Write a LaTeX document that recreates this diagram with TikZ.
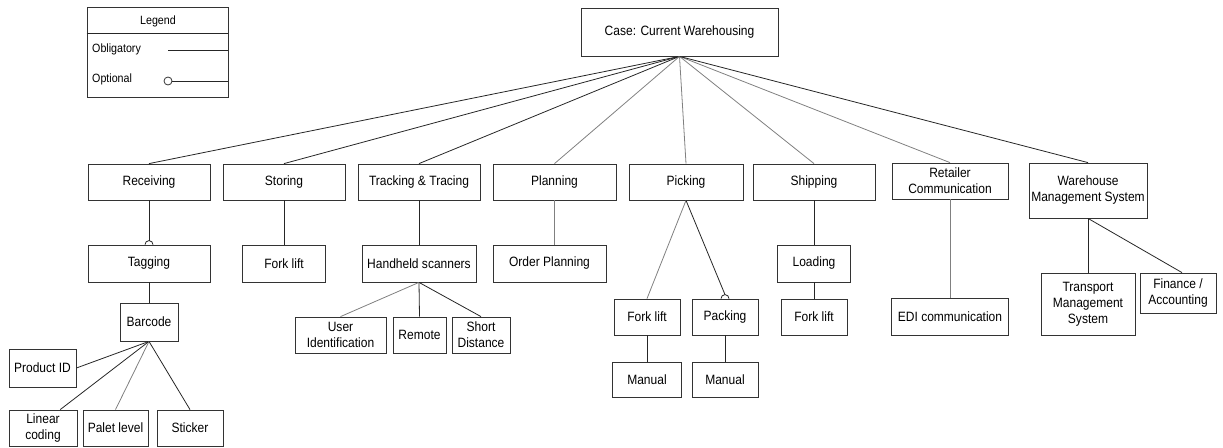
\documentclass[tikz,border=0pt]{standalone}
\usepackage{fontspec}
\setmainfont[FakeStretch=0.89]{Liberation Sans}
\usetikzlibrary{calc}
\begin{document}
\begin{tikzpicture}[x=1pt,y=1pt,
  box/.style={draw=black!80, line width=0.8pt, rectangle, inner sep=1pt,
    align=center, font=\fontsize{13.5}{16}\selectfont},
  wh/.style 2 args={minimum width=#1pt, minimum height=#2pt},
  link/.style={draw=black!85, line width=0.8pt},
  light/.style={draw=black!50, line width=0.8pt},
  legtext/.style={inner sep=0pt, font=\fontsize{12}{14}\selectfont}]
\useasboundingbox (0,0) rectangle (1223,-447);

% ---------- legend ----------
\node[draw=black!80, line width=0.8pt, wh={141}{90}] (legend) at (157.5,-52) {};
\draw[link] (legend.west |- 0,-33) -- (legend.east |- 0,-33);
\node[legtext] (legtitle) at (158,-21) {Legend};
\node[legtext, anchor=west] (obl) at (92,-49) {Obligatory};
\coordinate (oblA) at (168,-50);
\draw[link] (oblA) -- (oblA -| legend.east);
\node[legtext, anchor=west] (opt) at (92,-79) {Optional};
\node[circle, draw=black!80, line width=0.8pt, minimum size=8pt, inner sep=0pt] (optc) at (168,-81) {};
\draw[link] (optc.east) -- (optc.east -| legend.east);

% ---------- root ----------
\node[box, wh={197}{48}] (root) at (679.5,-32) {Case: Current Warehousing};

% ---------- first level ----------
\node[box, wh={122}{36}] (recv)  at (149,-182) {Receiving};
\node[box, wh={122}{36}] (stor)  at (284,-182) {Storing};
\node[box, wh={122}{36}] (track) at (419,-182) {Tracking \& Tracing};
\node[box, wh={123}{36}] (plan)  at (554.5,-182) {Planning};
\node[box, wh={114}{36}] (pick)  at (686,-182) {Picking};
\node[box, wh={122}{36}] (ship)  at (814,-182) {Shipping};
\node[box, wh={116}{36}] (ret)   at (950,-181) {Retailer\\Communication};
\node[box, wh={118}{55}] (wms)   at (1088,-190.5) {Warehouse\\Management System};

% ---------- second level ----------
\node[box, wh={122}{37}] (tag)   at (149,-263.5) {Tagging};
\node[box, wh={83}{37}]  (fork1) at (284,-263.5) {Fork lift};
\node[box, wh={114}{37}] (hand)  at (419,-263.5) {Handheld scanners};
\node[box, wh={113}{37}] (order) at (549.5,-263.5) {Order Planning};
\node[box, wh={73}{37}]  (load)  at (814,-263.5) {Loading};
\node[box, wh={117}{37}] (edi)   at (950,-317) {EDI communication};
\node[box, wh={94}{62}]  (tms)   at (1088,-304) {Transport\\Management\\System};
\node[box, wh={76}{40}]  (fin)   at (1178,-293) {Finance /\\Accounting};

% ---------- picking and shipping branches ----------
\node[box, wh={66}{36}] (forkP) at (647,-317) {Fork lift};
\node[box, wh={66}{36}] (pack)  at (725,-317) {Packing};
\node[box, wh={66}{36}] (forkS) at (814,-317) {Fork lift};
\node[box, wh={69}{35}] (man1)  at (647,-379.5) {Manual};
\node[box, wh={66}{35}] (man2)  at (725,-379.5) {Manual};

% ---------- tagging branch ----------
\node[box, wh={58}{38}] (bar) at (149,-322) {Barcode};
\node[box, wh={67}{38}] (pid) at (42.5,-368) {Product ID};
\node[box, wh={68}{36}] (lin) at (43,-428) {Linear\\coding};
\node[box, wh={65}{36}] (pal) at (115.5,-428) {Palet level};
\node[box, wh={66}{36}] (stk) at (190,-428) {Sticker};

% ---------- scanner branch ----------
\node[box, wh={91}{36}] (user)  at (340.5,-335) {User\\Identification};
\node[box, wh={53}{36}] (rem)   at (419.5,-335) {Remote};
\node[box, wh={58}{36}] (short) at (481,-335) {Short\\Distance};

% ---------- connectors from the root ----------
\draw[link]  (root.south) -- (recv.north);
\draw[link]  (root.south) -- (stor.north);
\draw[link]  (root.south) -- (track.north);
\draw[light] (root.south) -- (plan.north);
\draw[light] (root.south) -- (pick.north);
\draw[light] (root.south) -- (ship.north);
\draw[light] (root.south) -- (ret.north);
\draw[link]  (root.south) -- (wms.north);

% ---------- obligatory connectors ----------
\draw[link]  (stor.south) -- (fork1.north);
\draw[link]  (track.south) -- (hand.north);
\draw[light] (plan.south) -- (plan.south |- order.north);
\draw[light] (pick.south) -- (forkP.north);
\draw[link]  (ship.south) -- (load.north);
\draw[link]  (load.south) -- (forkS.north);
\draw[light] (ret.south) -- (edi.north);
\draw[link]  (wms.south) -- (tms.north);
\draw[link]  (wms.south) -- ([xshift=4pt]fin.north);
\draw[link]  (forkP.south) -- (man1.north);
\draw[link]  (pack.south) -- (man2.north);
\draw[link]  (tag.south) -- (bar.north);
\draw[link]  (bar.south) -- (pid.east);
\draw[link]  (bar.south) -- ($(lin.north)!0.5!(lin.north east)$);
\draw[light] (bar.south) -- (pal.north);
\draw[link]  (bar.south) -- (stk.north);
\draw[light] (hand.south) -- (user.north);
\draw[link]  (hand.south) -- (rem.north);
\draw[link]  (hand.south) -- (short.north);

% ---------- optional connectors ----------
\draw[link] (recv.south) -- ([yshift=4pt]tag.north);
\draw[link] ([xshift=-4pt]tag.north) arc[start angle=180, end angle=0, radius=4pt];
\draw[link] (pick.south) -- ([yshift=4pt]pack.north);
\draw[link] ([xshift=-4pt]pack.north) arc[start angle=180, end angle=0, radius=4pt];
\end{tikzpicture}
\end{document}
